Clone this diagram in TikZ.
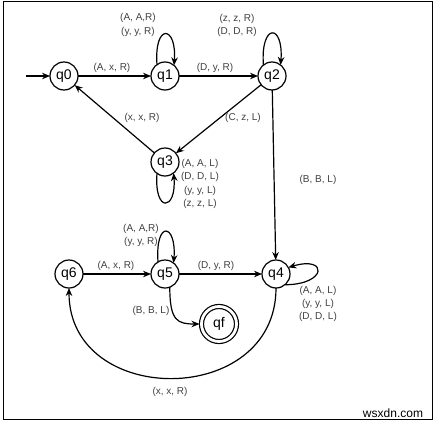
\documentclass[tikz,border=0pt]{standalone}
\usepackage{fontspec}
\setmainfont{Liberation Sans}
\usepackage{tikz}
\usepackage{tkz-graph}
\usetikzlibrary{shapes,arrows,arrows.meta}
\newcommand{\statefont}{\fontsize{14}{16}\selectfont}
\newcommand{\normalstate}{
  \SetVertexNormal[Shape      = circle,
                   FillColor  = white,
                   LineWidth  = 1.2pt,
                   MinSize    = 28pt]
  \tikzset{VertexStyle/.append style={font=\statefont, inner sep=0pt}}
}
\newcommand{\finalnode}[3]{
  \SetVertexNormal[Shape      = circle,
                   FillColor  = white,
                   LineWidth  = 1.2pt,
                   MinSize    = 35pt]
  \tikzset{VertexStyle/.append style={font=\statefont, inner sep=0pt,
                   double, double distance=2.8pt, outer sep=2pt}}
  \Vertex[x=#1,y=#2]{#3}
  \normalstate
}
\tikzset{lbl/.style={font=\fontsize{10}{13.3}\selectfont, text=black!75,
                     align=center, inner sep=0pt}}

\begin{document}
\begin{tikzpicture}[x=1pt,y=-1pt,>={Stealth[length=8pt,width=6.5pt]}]
	\useasboundingbox (0,0) rectangle (436,423);
	\draw[line width=1pt] (3.5,1.5) rectangle (432,419);
	\SetVertexNoMath
	\normalstate
	\Vertex[x=64,y=76]{q0}
	\Vertex[x=165,y=76]{q1}
	\Vertex[x=272,y=76]{q2}
	\Vertex[x=165,y=162]{q3}
	\Vertex[x=276,y=274]{q4}
	\Vertex[x=165,y=274]{q5}
	\Vertex[x=69,y=274]{q6}
	\finalnode{219}{324}{qf}
	\coordinate (start) at (26,76);
	\tikzstyle{EdgeStyle}=[->,line width=1.2pt]
	\Edge(start)(q0)
	\tikzstyle{EdgeStyle}=[->,line width=1.2pt]
	\Edge(q0)(q1)
	\tikzstyle{EdgeStyle}=[->,line width=1.2pt]
	\Edge(q1)(q2)
	\tikzstyle{EdgeStyle}=[->,line width=1.2pt]
	\Edge(q2)(q3)
	\tikzstyle{EdgeStyle}=[->,line width=1.2pt]
	\Edge(q3)(q0)
	\tikzstyle{EdgeStyle}=[->,line width=1.2pt]
	\Edge(q2)(q4)
	\tikzstyle{EdgeStyle}=[->,line width=1.2pt]
	\Edge(q6)(q5)
	\tikzstyle{EdgeStyle}=[->,line width=1.2pt]
	\Edge(q5)(q4)
	% loops
	\draw[->,line width=1.2pt] (q1.125) .. controls +(-3,-42) and +(3,-40) .. (q1.50);
	\draw[->,line width=1.2pt] (q2.128) .. controls +(-3,-42) and +(3,-42) .. (q2.52);
	\draw[->,line width=1.2pt] (q5.120) .. controls +(-3,-42) and +(3,-40) .. (q5.52);
	\draw[->,line width=1.2pt] (q3.-125) .. controls +(-3,40) and +(3,38) .. (q3.-52);
	\draw[->,line width=1.2pt] (q4.-50) .. controls +(42,0) and +(40,-12) .. (q4.28);
	% curved edges
	\draw[->,line width=1.2pt] (q5.-70) .. controls +(0,34) and +(-22,0) .. (qf.west);
	\draw[->,line width=1.2pt] (q4.south) .. controls +(0,120) and +(0,120) .. (q6.south);
	% labels
	\node[lbl] (l01) at (112,68) {(A, x, R)};
	\node[lbl] (l11) at (138,25) {(A, A,R)\\(y, y, R)};
	\node[lbl] (l12) at (215,68) {(D, y, R)};
	\node[lbl] (l22) at (237,25.5) {(z, z, R)\\(D, D, R)};
	\node[lbl] (l23) at (243,118) {(C, z, L)};
	\node[lbl] (l30) at (142,118) {(x, x, R)};
	\node[lbl] (l33) at (200,184) {(A, A, L)\\(D, D, L)\\(y, y, L)\\(z, z, L)};
	\node[lbl] (l24) at (318,180) {(B, B, L)};
	\node[lbl] (l44) at (318,304) {(A, A, L)\\(y, y, L)\\(D, D, L)};
	\node[lbl] (l65) at (116,266) {(A, x, R)};
	\node[lbl] (l55) at (141,235.5) {(A, A,R)\\(y, y, R)};
	\node[lbl] (l54) at (216,266) {(D, y, R)};
	\node[lbl] (l5f) at (151,311) {(B, B, L)};
	\node[lbl] (l46) at (170,392) {(x, x, R)};
	\node[font=\fontsize{12}{14}\selectfont] (mark) at (393,413) {wsxdn.com};
\end{tikzpicture}
\end{document}
